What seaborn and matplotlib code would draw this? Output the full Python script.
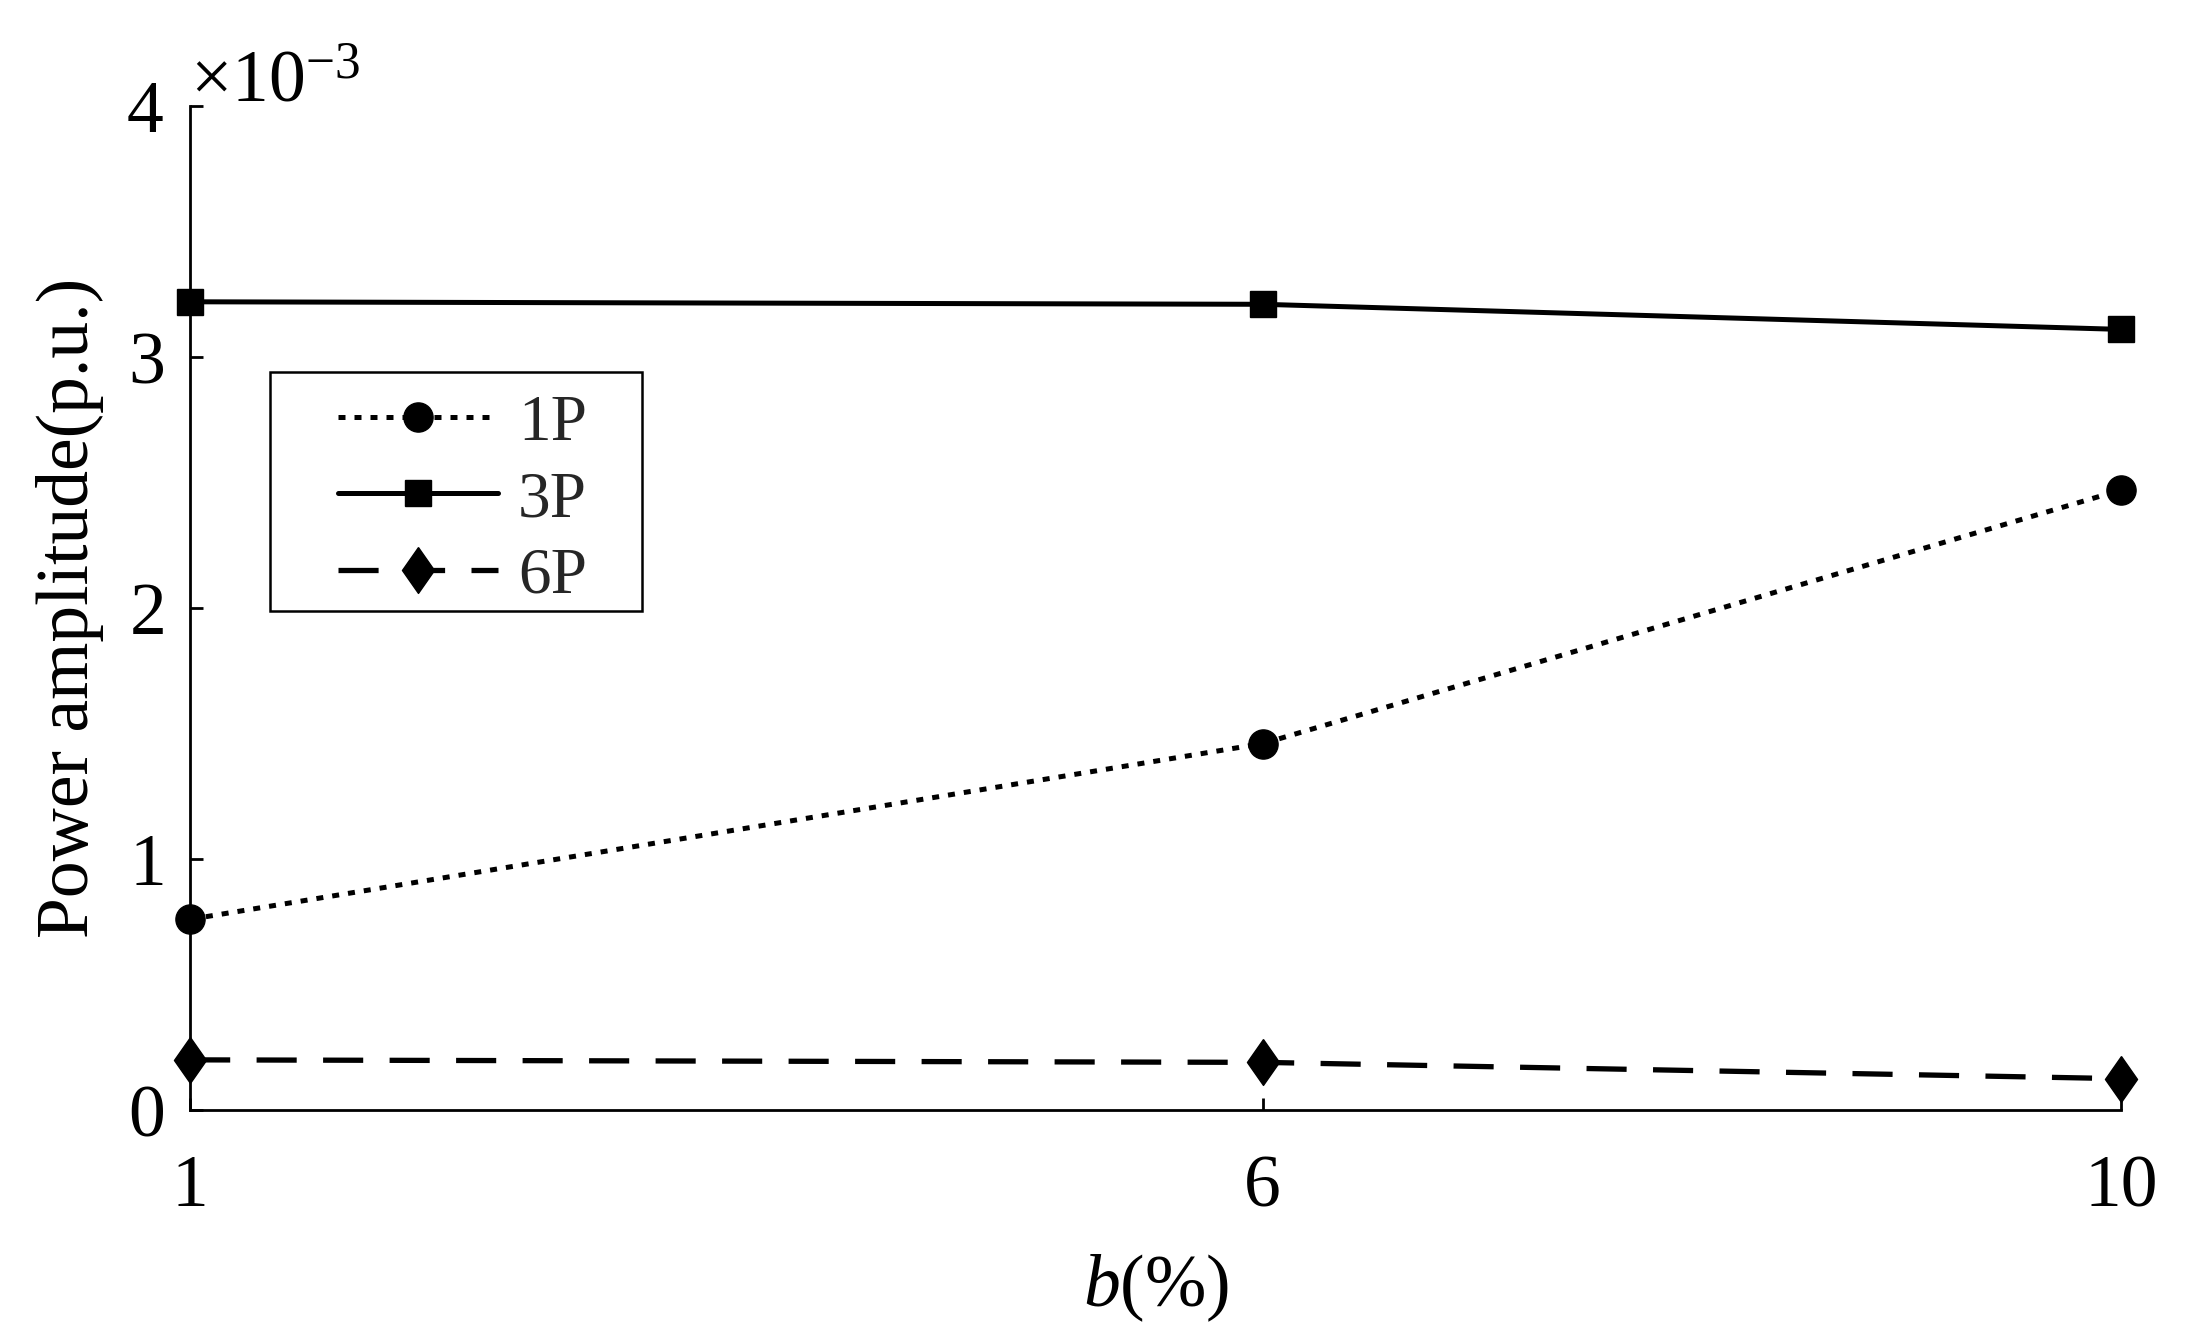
import numpy as np
import pandas as pd
import matplotlib
matplotlib.use("Agg")
import matplotlib.pyplot as plt
import seaborn as sns
from matplotlib.ticker import ScalarFormatter, FixedLocator
from matplotlib.patches import Rectangle

# ---- data ----
b_percent = [1, 6, 10]
series_names = ["1P", "3P", "6P"]
amp_1P = [0.76e-3, 1.46e-3, 2.47e-3]
amp_3P = [3.22e-3, 3.21e-3, 3.11e-3]
amp_6P = [0.20e-3, 0.19e-3, 0.125e-3]
x_ticks = [1, 6, 10]
y_ticks = [0, 1e-3, 2e-3, 3e-3, 4e-3]

sns.set_style("white")
plt.rcParams["font.family"] = ["Liberation Serif", "DejaVu Serif"]
plt.rcParams["mathtext.fontset"] = "custom"
plt.rcParams["mathtext.rm"] = "Liberation Serif"
plt.rcParams["mathtext.it"] = "Liberation Serif:italic"
plt.rcParams["axes.linewidth"] = 2.0

fig = plt.figure(figsize=(21.85, 13.4), dpi=100)
ax = fig.add_axes([0.087, 0.1716, 0.8837, 0.7493])

diamond = [(0, 1), (0.7, 0), (0, -1), (-0.7, 0), (0, 1)]

sns.lineplot(x=b_percent, y=amp_1P, ax=ax, color="black", lw=3.6,
             linestyle=(0, (1.4, 1.8)), marker="o", markersize=21,
             markeredgewidth=1, markeredgecolor="black", clip_on=False,
             label=series_names[0])
sns.lineplot(x=b_percent, y=amp_3P, ax=ax, color="black", lw=3.6,
             linestyle="-", marker="s", markersize=19,
             markeredgewidth=1, markeredgecolor="black", clip_on=False,
             label=series_names[1])
sns.lineplot(x=b_percent, y=amp_6P, ax=ax, color="black", lw=3.8,
             linestyle=(0, (7.6, 5)), marker=diamond, markersize=33,
             markeredgewidth=1, markeredgecolor="black", clip_on=False,
             label=series_names[2])

ax.set_xlim(1, 10)
ax.set_ylim(0, 4e-3)
ax.xaxis.set_major_locator(FixedLocator(x_ticks))
ax.yaxis.set_major_locator(FixedLocator(y_ticks))
fmt = ScalarFormatter(useMathText=True)
fmt.set_powerlimits((-2, 2))
ax.yaxis.set_major_formatter(fmt)

for s in ["top", "right"]:
    ax.spines[s].set_visible(False)
for s in ["left", "bottom"]:
    ax.spines[s].set_color("black")
    ax.spines[s].set_linewidth(2.0)

ax.tick_params(axis="both", direction="in", length=9, width=2, colors="black",
               labelsize=53, top=False, right=False, left=True, bottom=True)
ax.tick_params(axis="x", pad=32)
ax.tick_params(axis="y", pad=19)
ax.yaxis.get_offset_text().set_fontsize(53)

ax.set_xlabel("$b$(%)", fontsize=53, labelpad=22, color="black")
ax.set_ylabel("Power amplitude(p.u.)", fontsize=53, labelpad=16, color="black")

handles, labels = ax.get_legend_handles_labels()
leg = ax.legend(handles, labels, loc="upper left",
                bbox_to_anchor=(305 / 2185, 1 - 362 / 1340),
                bbox_transform=fig.transFigure, frameon=False, borderpad=0,
                fontsize=47, handlelength=2.46, handletextpad=0.3,
                labelspacing=0.25, markerfirst=True)
fig.patches.append(Rectangle((270 / 2185, 1 - 611 / 1340), (642 - 270) / 2185,
                             (611 - 372) / 1340, transform=fig.transFigure,
                             fill=False, edgecolor="black", linewidth=1.8))

fig.savefig("out.png", dpi=100, facecolor="white")
